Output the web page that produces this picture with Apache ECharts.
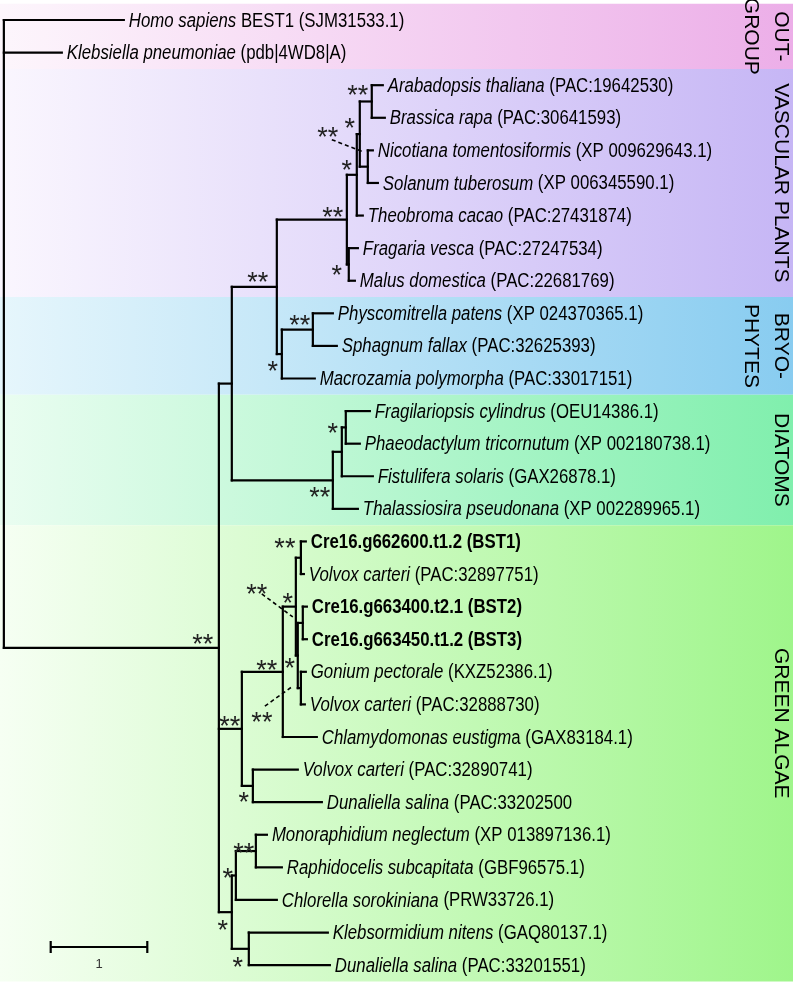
<!DOCTYPE html>
<html><head><meta charset="utf-8">
<script src="https://cdn.jsdelivr.net/npm/echarts@6/dist/echarts.min.js"></script>
<style>html,body{margin:0;padding:0;background:#fff}#c{width:793px;height:985px}</style>
</head><body><div id="c"></div>
<script>
// ---------------- DATA ----------------
const species = ['Homo sapiens','Klebsiella pneumoniae','Arabadopsis thaliana','Brassica rapa','Nicotiana tomentosiformis','Solanum tuberosum','Theobroma cacao','Fragaria vesca','Malus domestica','Physcomitrella patens','Sphagnum fallax','Macrozamia polymorpha','Fragilariopsis cylindrus','Phaeodactylum tricornutum','Fistulifera solaris','Thalassiosira pseudonana','','Volvox carteri','','','Gonium pectorale','Volvox carteri','Chlamydomonas eustigm','Volvox carteri','Dunaliella salina','Monoraphidium neglectum','Raphidocelis subcapitata','Chlorella sorokiniana','Klebsormidium nitens','Dunaliella salina'];
const accessions = [' BEST1 (SJM31533.1)',' (pdb|4WD8|A)',' (PAC:19642530)',' (PAC:30641593)',' (XP 009629643.1)',' (XP 006345590.1)',' (PAC:27431874)',' (PAC:27247534)',' (PAC:22681769)',' (XP 024370365.1)',' (PAC:32625393)',' (PAC:33017151)',' (OEU14386.1)',' (XP 002180738.1)',' (GAX26878.1)',' (XP 002289965.1)','Cre16.g662600.t1.2 (BST1)',' (PAC:32897751)','Cre16.g663400.t2.1 (BST2)','Cre16.g663450.t1.2 (BST3)',' (KXZ52386.1)',' (PAC:32888730)','a (GAX83184.1)',' (PAC:32890741)',' (PAC:33202500',' (XP 013897136.1)',' (GBF96575.1)',' (PRW33726.1)',' (GAQ80137.1)',' (PAC:33201551)'];
const boldLeaves = [16, 18, 19];
const leafParent = ['R','R','AB','AB','NS','NS','D','FM','FM','PS','PS','BR','F','F','E','DI','BV','BV','B23','B23','GV','GV','CC','VD','VD','MR','MR','CG','KD','KD'];
const leafDist = [1.242,0.600,3.923,3.944,3.820,3.872,3.716,3.665,3.634,3.406,3.447,3.219,3.789,3.685,3.820,3.665,3.126,3.106,3.137,3.137,3.126,3.116,3.240,3.043,3.292,2.723,2.878,2.826,3.354,3.375];
const nodeIds = ['R','I','LPD','LP','VP','D','C','AB','NS','FM','BR','PS','DI','E','F','GA1','CC','A','BV','B','B23','GV','VD','GA2','CG','MR','KD'];
const nodeParent = [null,'R','I','LPD','LP','VP','D','C','C','VP','LP','BR','LPD','DI','E','I','GA1','CC','A','A','B','B','GA1','I','GA2','CG','GA2'];
const nodeDist = [0,2.226,2.360,2.826,3.551,3.654,3.685,3.809,3.768,3.571,2.878,3.199,3.406,3.499,3.540,2.464,2.888,3.023,3.075,3.043,3.095,3.075,2.578,2.360,2.402,2.609,2.536];
const nodeSupport = ['','**','','**','**','*','*','**','**','*','*','**','**','','*','**','**','*','**','*','**','**','*','*','*','**','*'];
const groupNames = ['OUT-\nGROUP','VASCULAR PLANTS','BRYO-\nPHYTES','DIATOMS','GREEN ALGAE'];
const groupFirstLeaf = [0, 2, 9, 12, 16];
const groupLastLeaf = [1, 8, 11, 15, 29];
const scaleBarLength = 1;
const scaleBarLabel = '1';

// ---------------- STYLE ----------------
const SANS = '"Liberation Sans",Arial,sans-serif';
const INK = '#000';
const NARROW_SCALE = 0.84;
const bandLeft = ['#fdf6fc','#faf6fe','#e6f6fc','#eafdf1','#f6fff3'];
const bandRight = ['#ecaee8','#c6b6f5','#88ccf0','#80efad','#9ff58b'];
const groupShift = [0, 0, 0, 0, -30];
// support label offsets (px) from node; dashed: [labelDx,labelDy, fromDx,fromDy, toDx,toDy]
const supOff = {I:[-16,-9],LP:[-19,-10],VP:[-14,-8],D:[-10,-10],C:[-10,-12],AB:[-14,-12],FM:[-12,5],PS:[-13,-10],BR:[-9,11],F:[-13,0],DI:[-13,11],BV:[-16,-15],A:[-8,-9],B:[-8,7],CC:[-16,-7],GA1:[-12,-8],VD:[-9,11],MR:[-12,-4],CG:[-8,-3],GA2:[-9,12],KD:[-11,13]};
const dashOff = {NS:[-40,-35,-36,-27,-5,-15], B23:[-46,-34,-41,-29,-10,-6], GV:[-39,28,-36,18,-8,-2]};
const STAR_SHIFT = 7;
const X_MIN = -0.04, X_MAX = 8.17, Y_MIN = 0.386, Y_MAX = 30.61;

// ---------------- TREE LAYOUT ----------------
const nodes = {};
nodeIds.forEach((id, k) => nodes[id] = {id, k, parent: nodeParent[k], x: nodeDist[k], kids: []});
leafDist.forEach((d, i) => nodes[leafParent[i]].kids.push({id: 'L' + i, x: d, y: i + 1, kids: []}));
nodeIds.forEach(id => { const p = nodes[id].parent; if (p) nodes[p].kids.push(nodes[id]); });
function layout(n) {
  if (!n.kids.length) return n.y;
  const ys = n.kids.map(layout);
  n.minY = Math.min(...ys); n.maxY = Math.max(...ys);
  n.y = (n.minY + n.maxY) / 2;
  return n.y;
}
layout(nodes.R);
const segments = [];
nodeIds.forEach(id => {
  const n = nodes[id];
  segments.push([n.x, n.minY, n.x, n.maxY]);
  n.kids.forEach(c => segments.push([n.x, c.y, c.x, c.y]));
});
const supportData = nodeIds.map((id, k) => [nodes[id].x, nodes[id].y, k]).filter(d => nodeSupport[d[2]]);
const leafData = leafDist.map((d, i) => [d, i + 1, i]);
const groupData = groupNames.map((g, k) => [groupFirstLeaf[k] + 0.5, groupLastLeaf[k] + 1.5, k]);

const RICH = {
  i: {fontFamily: SANS, fontSize: 20, fontStyle: 'italic', fill: INK},
  n: {fontFamily: SANS, fontSize: 20, fill: INK},
  b: {fontFamily: SANS, fontSize: 20, fontWeight: 'bold', fill: INK}
};
function leafText(i) {
  if (boldLeaves.indexOf(i) >= 0) return '{b|' + accessions[i] + '}';
  return '{i|' + species[i] + '}{n|' + accessions[i] + '}';
}

const chart = echarts.init(document.getElementById('c'), null, {renderer: 'canvas', width: 793, height: 985});
chart.setOption({
  animation: false,
  grid: {left: 0, right: 0, top: 0, bottom: 0},
  xAxis: {type: 'value', min: X_MIN, max: X_MAX, show: false},
  yAxis: {type: 'value', min: Y_MIN, max: Y_MAX, inverse: true, show: false},
  series: [
    { type: 'custom', z: 1, silent: true, clip: false, data: groupData,
      renderItem(p, api) {
        const k = api.value(2);
        const a = api.coord([X_MIN, api.value(0)]), b = api.coord([X_MAX, api.value(1)]);
        return {type: 'rect', shape: {x: a[0], y: a[1], width: b[0] - a[0], height: b[1] - a[1]},
          style: {fill: new echarts.graphic.LinearGradient(0, 0, 1, 0, [{offset: 0, color: bandLeft[k]}, {offset: 1, color: bandRight[k]}])}};
      } },
    { type: 'custom', z: 2, silent: true, clip: false, data: segments,
      renderItem(p, api) {
        const a = api.coord([api.value(0), api.value(1)]), b = api.coord([api.value(2), api.value(3)]);
        return {type: 'line', shape: {x1: a[0], y1: a[1], x2: b[0], y2: b[1]},
          style: {stroke: INK, lineWidth: 2.2, lineCap: 'square'}};
      } },
    { type: 'custom', z: 3, silent: true, clip: false, data: supportData,
      renderItem(p, api) {
        const k = api.value(2), id = nodeIds[k];
        const c = api.coord([api.value(0), api.value(1)]);
        const children = [];
        let off;
        if (dashOff[id]) {
          const d = dashOff[id];
          off = [d[0], d[1]];
          children.push({type: 'line', shape: {x1: c[0] + d[2], y1: c[1] + d[3], x2: c[0] + d[4], y2: c[1] + d[5]},
            style: {stroke: INK, lineWidth: 1.6, lineDash: [4, 3]}});
        } else off = supOff[id] || [-10, -10];
        children.push({type: 'text', x: c[0] + off[0], y: c[1] + off[1] + STAR_SHIFT,
          style: {text: nodeSupport[k], font: '27px ' + SANS, fill: '#222', align: 'center', verticalAlign: 'middle'}});
        return {type: 'group', children};
      } },
    { type: 'custom', z: 3, silent: true, clip: false, data: leafData,
      renderItem(p, api) {
        const i = api.value(2);
        const c = api.coord([api.value(0), api.value(1)]);
        return {type: 'text', x: c[0] + 5, y: c[1] + 1, scaleX: NARROW_SCALE,
          style: {text: leafText(i), rich: RICH, font: '20px ' + SANS, fill: INK, align: 'left', verticalAlign: 'middle'}};
      } },
    { type: 'custom', z: 3, silent: true, clip: false, data: groupData,
      renderItem(p, api) {
        const k = api.value(2);
        const a = api.coord([X_MAX, api.value(0)]), b = api.coord([X_MAX, api.value(1)]);
        return {type: 'text', x: api.getWidth() + 3, y: (a[1] + b[1]) / 2 + groupShift[k], rotation: -Math.PI / 2,
          style: {text: groupNames[k], font: '21px ' + SANS, fill: INK, align: 'center', verticalAlign: 'top', lineHeight: 30}};
      } },
    { type: 'custom', z: 3, silent: true, clip: false, data: [[scaleBarLength]],
      renderItem(p, api) {
        const len = api.coord([api.value(0), 1])[0] - api.coord([0, 1])[0];
        const x0 = 50.7, y0 = 947, t = 6;
        const st = {stroke: INK, lineWidth: 2.2};
        return {type: 'group', children: [
          {type: 'line', shape: {x1: x0, y1: y0, x2: x0 + len, y2: y0}, style: st},
          {type: 'line', shape: {x1: x0, y1: y0 - t, x2: x0, y2: y0 + t}, style: st},
          {type: 'line', shape: {x1: x0 + len, y1: y0 - t, x2: x0 + len, y2: y0 + t}, style: st},
          {type: 'text', x: x0 + len / 2, y: y0 + 17, style: {text: scaleBarLabel, font: '13px ' + SANS, fill: '#333', align: 'center', verticalAlign: 'middle'}}
        ]};
      } }
  ]
});
</script></body></html>
